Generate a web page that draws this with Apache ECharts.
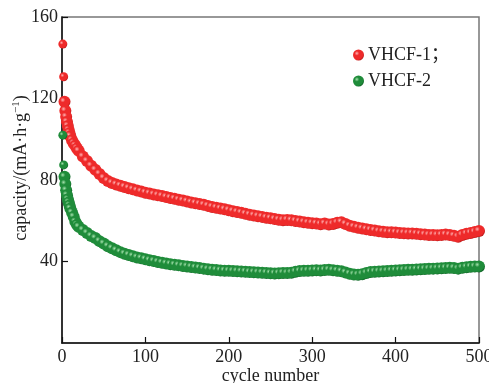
<!DOCTYPE html>
<html>
<head>
<meta charset="utf-8">
<script src="https://cdn.jsdelivr.net/npm/echarts@6/dist/echarts.min.js"></script>
<style>
  html, body { margin: 0; padding: 0; background: #fff; }
  #chart { width: 489px; height: 383px; }
</style>
</head>
<body>
<div id="chart"></div>
<script>
const cycles = [1, 2, 3, 4, 5, 6, 7, 8, 9, 10, 12, 14, 16, 18,
  20, 25, 30, 35, 40, 45, 50, 55, 60, 65, 70, 75, 80, 85, 90, 95,
  100, 105, 110, 115, 120, 125, 130, 135, 140, 145, 150, 155, 160, 165, 170, 175, 180, 185, 190, 195,
  200, 205, 210, 215, 220, 225, 230, 235, 240, 245, 250, 255, 260, 265, 270, 275, 280, 285, 290, 295,
  300, 305, 310, 315, 320, 325, 330, 335, 340, 345, 350, 355, 360, 365, 370, 375, 380, 385, 390, 395,
  400, 405, 410, 415, 420, 425, 430, 435, 440, 445, 450, 455, 460, 465, 470, 475, 480, 485, 490, 495, 500];

const vhcf1 = [146.7, 130.7, 118.4, 114, 111, 108.5, 106.5, 104.5, 103, 101.5, 99.5, 98, 96.8, 95.5,
  94.3, 91.5, 89.3, 87, 85, 83, 81, 79.5, 78.5, 77.8, 77.2, 76.6, 76, 75.4, 74.8, 74.3,
  73.8, 73.4, 72.9, 72.5, 72.1, 71.6, 71.2, 70.8, 70.3, 69.9, 69.5, 69, 68.6, 68.2, 67.8, 67.3, 66.8, 66.4, 66, 65.6,
  65.2, 64.7, 64.3, 63.9, 63.4, 63, 62.6, 62.2, 61.9, 61.5, 61.2, 60.8, 60.5, 60.3, 60.4, 60.2, 59.9, 59.6, 59.3, 59,
  58.8, 58.6, 58.3, 58.6, 58.2, 58.4, 59, 59.3, 58.4, 57.5, 57, 56.6, 56.2, 55.8, 55.5, 55.2, 54.8, 54.6, 54.4, 54.3,
  54.2, 54, 53.9, 53.8, 53.8, 53.6, 53.4, 53.2, 53, 53, 52.9, 53, 53.2, 53, 52.6, 52.2, 53, 53.6, 54, 54.5, 55];

const vhcf2 = [102, 87.4, 81.6, 78, 75, 72.5, 70.5, 69, 67.5, 66, 64, 62, 59.5, 58,
  57, 55.5, 54, 52.5, 51.5, 50, 48.8, 47.5, 46.5, 45.5, 44.6, 43.8, 43.2, 42.6, 42, 41.6,
  41.1, 40.6, 40.2, 39.8, 39.4, 39, 38.7, 38.4, 38.1, 37.8, 37.6, 37.3, 37, 36.8, 36.5, 36.2, 36, 35.8, 35.6, 35.5,
  35.4, 35.3, 35.2, 35.1, 35, 34.8, 34.7, 34.6, 34.5, 34.4, 34.2, 34.1, 34.2, 34.4, 34.3, 34.5, 35, 35.3, 35.4, 35.5,
  35.6, 35.7, 35.6, 35.8, 35.9, 35.7, 35.5, 35.2, 34.6, 34, 33.6, 33.5, 33.8, 34.3, 34.8, 35, 35.1, 35.2, 35.3, 35.5,
  35.6, 35.7, 35.8, 35.9, 36, 36.1, 36.2, 36.3, 36.4, 36.5, 36.6, 36.7, 36.8, 36.9, 36.8, 36.5, 36.9, 37.2, 37.4, 37.5, 37.6];

const serif = '"Liberation Serif", "Times New Roman", "Noto Sans CJK SC", serif';

function ball(light, mid, dark) {
  return {
    type: 'radial', x: 0.35, y: 0.35, r: 0.7,
    colorStops: [
      { offset: 0, color: light },
      { offset: 0.3, color: mid },
      { offset: 0.8, color: mid },
      { offset: 1, color: dark }
    ]
  };
}

// lone first cycles are smaller dots, the dense band is thicker
function dotSize(v) {
  return v[0] <= 2 ? 9 : 12;
}

const chart = echarts.init(document.getElementById('chart'));
chart.setOption({
  animation: false,
  backgroundColor: '#fff',
  textStyle: { fontFamily: serif },
  grid: {
    left: 62, right: 10, top: 17, bottom: 40,
    outerBoundsMode: 'none',
    show: true, borderColor: '#777', borderWidth: 1.5, backgroundColor: 'transparent'
  },
  legend: {
    orient: 'vertical',
    left: 348, top: 41,
    itemWidth: 11, itemHeight: 11, itemGap: 8,
    icon: 'circle',
    selectedMode: false,
    textStyle: { fontFamily: serif, fontSize: 18, color: '#222', padding: [0, 0, 0, -1] },
    data: ['VHCF-1；', 'VHCF-2']
  },
  xAxis: {
    type: 'value', min: 0, max: 500, interval: 100,
    name: 'cycle number', nameLocation: 'middle', nameGap: 24, nameMoveOverlap: false,
    nameTextStyle: { fontFamily: serif, fontSize: 18, color: '#222' },
    axisLine: { lineStyle: { color: '#111', width: 1.5 } },
    axisTick: { inside: true, length: 6, lineStyle: { color: '#111', width: 1.2 } },
    axisLabel: { fontFamily: serif, fontSize: 18, color: '#222', margin: 5 },
    splitLine: { show: false }
  },
  yAxis: {
    type: 'value', min: 0, max: 160, interval: 40,
    name: '{a|capacity/(mA·h·g}{s|−1}{a|)}', nameLocation: 'middle', nameGap: 31, nameMoveOverlap: false,
    nameTextStyle: {
      fontFamily: serif, fontSize: 18, color: '#222',
      padding: [0, 0, 0, 24],
      rich: {
        a: { fontFamily: serif, fontSize: 18, color: '#222', lineHeight: 20 },
        s: { fontFamily: serif, fontSize: 11, color: '#222', verticalAlign: 'top', lineHeight: 20 }
      }
    },
    axisLine: { lineStyle: { color: '#111', width: 1.5 } },
    axisTick: { inside: true, length: 6, lineStyle: { color: '#111', width: 1.2 } },
    axisLabel: { fontFamily: serif, fontSize: 18, color: '#222', margin: 4, showMinLabel: false },
    splitLine: { show: false }
  },
  series: [
    {
      name: 'VHCF-1；', type: 'scatter', symbolSize: dotSize,
      itemStyle: { color: ball('#ffb3b3', '#ee2a2a', '#b81818'), opacity: 1 },
      data: cycles.map((c, i) => [c, vhcf1[i]])
    },
    {
      name: 'VHCF-2', type: 'scatter', symbolSize: dotSize,
      itemStyle: { color: ball('#a6e2ae', '#1f8c3a', '#0c5e22'), opacity: 1 },
      data: cycles.map((c, i) => [c, vhcf2[i]])
    }
  ]
});
</script>
</body>
</html>
